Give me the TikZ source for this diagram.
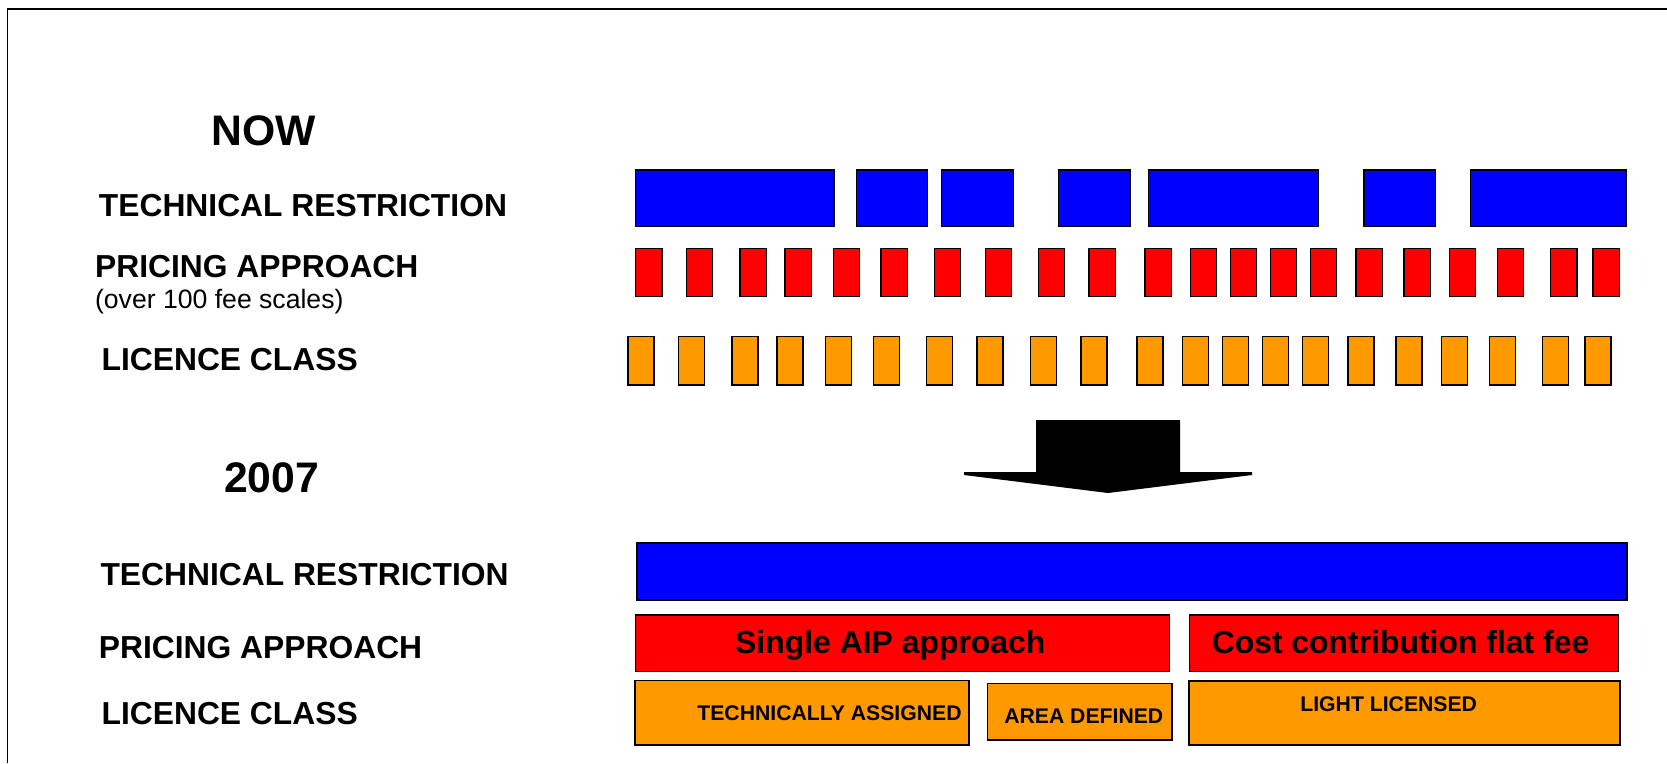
\documentclass[tikz,border=0pt]{standalone}
\usepackage{fontspec}
\setmainfont{Liberation Sans}
\definecolor{cblue}{RGB}{0,0,255}
\definecolor{cred}{RGB}{255,0,0}
\definecolor{corange}{RGB}{255,153,0}
\begin{document}
\begin{tikzpicture}[x=1pt,y=-1pt,
  ttl/.style={font=\bfseries\fontsize{42.7}{50}\selectfont, anchor=base west, inner sep=0pt},
  lbl/.style={font=\bfseries\fontsize{31.8}{38}\selectfont, anchor=base west, inner sep=0pt},
  sublbl/.style={font=\fontsize{26.6}{32}\selectfont, anchor=base west, inner sep=0pt},
  boxtxt/.style={font=\bfseries\fontsize{31.9}{38}\selectfont, anchor=base, inner sep=0pt},
  smalltxt/.style={font=\bfseries\fontsize{21.2}{26}\selectfont, anchor=base, inner sep=0pt},
  bar/.style={draw=black, line width=1.5pt, rectangle, anchor=north west, inner sep=0pt, outer sep=0pt},
  bluebar/.style={bar, fill=cblue},
  redbar/.style={bar, fill=cred},
  orangebar/.style={bar, fill=corange}]
\useasboundingbox[fill=white] (0,0) rectangle (1667,763);
% frame (top and left visible)
\draw[line width=1.2pt] (7.7,763) -- (7.7,9) -- (1667,9);

% left labels
\node[ttl] (now) at (211.6,145.7) {NOW};
\node[lbl] (tr1) at (98.7,216.7) {TECHNICAL RESTRICTION};
\node[lbl] (pa1) at (94.9,277.3) {PRICING APPROACH};
\node[sublbl] (fee) at (94.9,308) {(over 100 fee scales)};
\node[lbl] (lc1) at (101.4,370) {LICENCE CLASS};
\node[ttl] (y2007) at (223.9,492.7) {2007};
\node[lbl] (tr2) at (100.3,585) {TECHNICAL RESTRICTION};
\node[lbl] (pa2) at (98.7,658.3) {PRICING APPROACH};
\node[lbl] (lc2) at (101.4,724) {LICENCE CLASS};

% NOW: technical restriction row
\foreach \a/\b [count=\i] in {635.7/834, 856.7/927.7, 941.7/1013.3, 1058.3/1130, 1148.7/1318.7, 1364/1435.3, 1470.3/1626}
  \node[bluebar, minimum width={\b-\a}, minimum height=56.7] (tb\i) at (\a,170) {};

% NOW: pricing row
\foreach \a [count=\i] in {635.7, 686.3, 740, 785, 833.3, 881, 934.3, 985.3, 1038.3, 1089, 1145, 1190.3, 1230.3, 1270.3, 1310.3, 1356, 1404, 1449.3, 1497.3, 1550.5, 1593}
  \node[redbar, minimum width=26.3, minimum height=48] (pr\i) at (\a,248.7) {};

% NOW: licence class row
\foreach \a [count=\i] in {628, 678.3, 732, 777, 825.3, 873.3, 926.3, 977, 1030.3, 1081, 1137, 1182.3, 1222.3, 1262.3, 1302.3, 1348, 1396, 1441.3, 1489.3, 1542.5, 1585}
  \node[orangebar, minimum width=26, minimum height=48.3] (lo\i) at (\a,336.7) {};

% big arrow
\fill (1036,420) -- (1180,420) -- (1180,472) -- (1252,472) -- (1252,475) -- (1108,493) -- (964,475) -- (964,472) -- (1036,472) -- cycle;

% 2007 rows
\node[bluebar, minimum width=990, minimum height=57] (tb) at (637,543) {};
\node[redbar, minimum width=533.8, minimum height=56.7] (sa) at (635.7,615) {};
\node[redbar, minimum width=429, minimum height=56.7] (cc) at (1189.3,615) {};
\node[boxtxt] (satxt) at (890.3,653) {Single AIP approach};
\node[boxtxt] (cctxt) at (1400.5,653.3) {Cost contribution flat fee};
\node[orangebar, minimum width=334, minimum height=64.3] (ta) at (635,680.7) {};
\node[orangebar, minimum width=184.3, minimum height=56.7] (ad) at (987.7,683.3) {};
\node[orangebar, minimum width=431, minimum height=64] (ll) at (1189,681) {};
\node[smalltxt] (tatxt) at (829.5,720.7) {TECHNICALLY ASSIGNED};
\node[smalltxt] (adtxt) at (1083.8,723.3) {AREA DEFINED};
\node[smalltxt] (lltxt) at (1388.7,711) {LIGHT LICENSED};
\end{tikzpicture}
\end{document}
